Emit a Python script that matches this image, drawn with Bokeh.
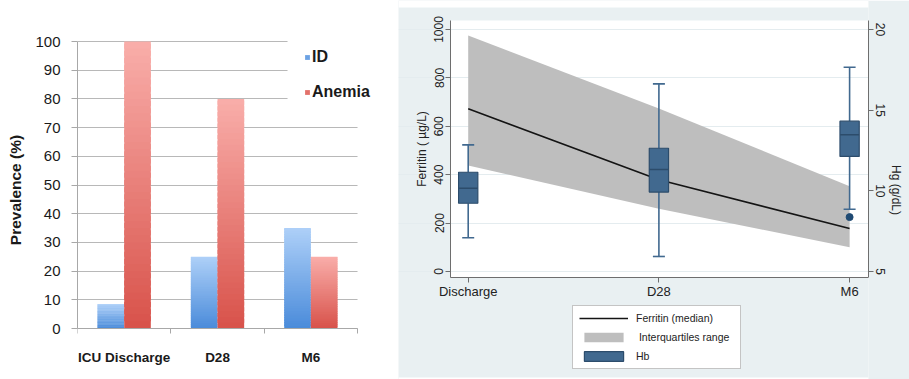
import numpy as np
from bokeh.plotting import figure
from bokeh.layouts import row
from bokeh.models import (ColumnDataSource, Range1d, LinearAxis, FixedTicker, BoxAnnotation,
                          CustomJSTickFormatter, Legend, LegendItem)
from bokeh.embed import file_html
from bokeh.resources import INLINE

# ---------------- data: left panel (prevalence) ----------------
categories = ["ICU Discharge", "D28", "M6"]
id_prev = [8.5, 25, 35]
anemia_prev = [100, 80, 25]
prev_ticks = [0, 10, 20, 30, 40, 50, 60, 70, 80, 90, 100]

# ---------------- data: right panel (ferritin / Hb) ----------------
timepoints = ["Discharge", "D28", "M6"]
ferritin_median = [672, 379, 178]
ferritin_q1 = [438, 259, 100]
ferritin_q3 = [975, 674, 352]
hb_whisker_low = [7.09, 5.93, 8.86]
hb_q1 = [9.23, 9.92, 12.13]
hb_median = [10.16, 11.32, 13.47]
hb_q3 = [11.15, 12.64, 14.32]
hb_whisker_high = [12.85, 16.63, 17.66]
hb_outlier_time = ["M6"]
hb_outlier = [8.37]
ferritin_ticks = [0, 200, 400, 600, 800, 1000]
hb_ticks = [5, 10, 15, 20]

SANS = "Liberation Sans"


def mix(c1, c2, t):
    a = [int(c1[i:i + 2], 16) for i in (1, 3, 5)]
    b = [int(c2[i:i + 2], 16) for i in (1, 3, 5)]
    return "#%02x%02x%02x" % tuple(int(round(a[j] + (b[j] - a[j]) * t)) for j in range(3))


def gradient_source(values, offset, c_bottom, c_top, n=40):
    # each bar is painted as n stacked slices to imitate the vertical gradient fill
    xs, bottoms, tops, colors = [], [], [], []
    for i, v in enumerate(values):
        for k in range(n):
            xs.append(i + 0.5 + offset)
            bottoms.append(v * k / n)
            tops.append(min(v, v * (k + 1.7) / n))
            colors.append(mix(c_bottom, c_top, (k + 0.5) / n))
    return ColumnDataSource(dict(x=xs, bottom=bottoms, top=tops, color=colors))


# ================= LEFT FIGURE =================
# frame spans the whole figure (y 0..379 px, x 77..398 px); data 0..100 sits at 328..41 px
p1 = figure(width=398, height=379, x_range=Range1d(0, 3.439), y_range=Range1d(-17.77, 114.29),
            output_backend="svg", toolbar_location=None,
            min_border_left=77, min_border_right=0, min_border_top=0, min_border_bottom=0)
p1.outline_line_color = None
p1.background_fill_color = "white"
p1.border_fill_color = "white"
p1.xgrid.visible = False
p1.ygrid.ticker = FixedTicker(ticks=prev_ticks)
p1.ygrid.grid_line_color = "#B8B8B8"
p1.ygrid.grid_line_width = 1
# white areas hiding the gridlines right of the plot and behind the legend
p1.add_layout(BoxAnnotation(left=len(categories), fill_color="white", fill_alpha=1,
                            line_color=None, level="underlay"))
p1.add_layout(BoxAnnotation(left=2.25, bottom=72.8, fill_color="white", fill_alpha=1,
                            line_color=None, level="underlay"))

NSL = 40
src_id = gradient_source(id_prev, -0.143, "#4A8BDA", "#AED0F8", NSL)
src_an = gradient_source(anemia_prev, 0.143, "#D8524A", "#F9AEAA", NSL)
r_id = p1.vbar(x="x", bottom="bottom", top="top", width=0.285, source=src_id,
               fill_color="color", line_color=None)
r_an = p1.vbar(x="x", bottom="bottom", top="top", width=0.285, source=src_an,
               fill_color="color", line_color=None)

ya = p1.yaxis[0]
ya.ticker = FixedTicker(ticks=prev_ticks)
ya.bounds = (0, 100)
ya.axis_line_color = "#A8A8A8"
ya.major_tick_line_color = "#A8A8A8"
ya.major_tick_out = 6
ya.major_tick_in = 0
ya.minor_tick_line_color = None
ya.major_label_text_font = SANS
ya.major_label_text_font_size = "15px"
ya.major_label_text_color = "#1a1a1a"
ya.major_label_standoff = 11
ya.axis_label = "Prevalence (%)"
ya.axis_label_text_font = SANS
ya.axis_label_text_font_style = "bold"
ya.axis_label_text_font_size = "15.5px"
ya.axis_label_text_color = "#1a1a1a"
ya.axis_label_standoff = 8

xa = p1.xaxis[0]
xa.fixed_location = 0
xa.bounds = (0, len(categories))
xa.ticker = FixedTicker(ticks=[i + 0.5 for i in range(len(categories))],
                        minor_ticks=list(range(len(categories) + 1)))
xa.formatter = CustomJSTickFormatter(args=dict(labels=categories),
                                     code="return labels[Math.floor(tick)] || '';")
xa.axis_line_color = "#A8A8A8"
xa.major_tick_line_color = None
xa.major_tick_out = 0
xa.major_tick_in = 0
xa.minor_tick_line_color = "#A8A8A8"
xa.minor_tick_out = 5
xa.minor_tick_in = 0
xa.major_label_text_font = SANS
xa.major_label_text_font_style = "bold"
xa.major_label_text_font_size = "13.5px"
xa.major_label_text_color = "#1a1a1a"
xa.major_label_standoff = 16

leg1 = Legend(items=[LegendItem(label="ID", renderers=[r_id], index=NSL // 3),
                     LegendItem(label="Anemia", renderers=[r_an], index=NSL // 3)],
              location=(227, 277), glyph_width=6, glyph_height=6, label_height=20,
              spacing=15, padding=18, margin=0, label_standoff=2,
              border_line_color=None, background_fill_color="white", background_fill_alpha=1,
              label_text_font=SANS, label_text_font_style="bold",
              label_text_font_size="16px", label_text_color="#1a1a1a")
p1.add_layout(leg1, "center")

# ================= RIGHT FIGURE =================
# frame spans x 398..868 px and y 0..379 px; plot area x 450..868, y 20..277
# ferritin 0..1000 sits at 271..29 px; Hb 5..20 on the same pixels
xi = list(range(len(timepoints)))
p2 = figure(width=511, height=379, x_range=Range1d(-0.3655, 2.0991), y_range=Range1d(-446.3, 1119.8),
            output_backend="svg", toolbar_location=None,
            min_border_left=0, min_border_right=41, min_border_top=0, min_border_bottom=0)
p2.extra_y_ranges = {"hb": Range1d(-1.6945, 21.797)}
BG = "#E9F0F2"
p2.background_fill_color = BG
p2.border_fill_color = BG
p2.outline_line_color = None
# white page strips above / below the grey-blue graph region, and the white plot region
p2.add_layout(BoxAnnotation(bottom=1090.9, fill_color="white", fill_alpha=1,
                            line_color=None, level="image"))
p2.add_layout(BoxAnnotation(top=-438.0, fill_color="white", fill_alpha=1,
                            line_color=None, level="image"))
p2.add_layout(BoxAnnotation(left=-0.0928, bottom=-24.8, top=1037.2, fill_color="white",
                            fill_alpha=1, line_color=None, level="image"))
p2.xgrid.visible = False
p2.ygrid.ticker = FixedTicker(ticks=ferritin_ticks)
p2.ygrid.grid_line_color = "#E4ECEF"
p2.ygrid.grid_line_width = 1

r_band = p2.varea(x=xi, y1=ferritin_q1, y2=ferritin_q3, fill_color="#BEBEBE", fill_alpha=1)
r_line = p2.line(x=xi, y=ferritin_median, line_color="#141414", line_width=1.6)

BOX = "#41698F"
BOX_EDGE = "#2C4C6B"
p2.segment(x0=xi, y0=hb_whisker_low, x1=xi, y1=hb_q1, y_range_name="hb",
           line_color=BOX, line_width=1.6)
p2.segment(x0=xi, y0=hb_q3, x1=xi, y1=hb_whisker_high, y_range_name="hb",
           line_color=BOX, line_width=1.6)
p2.scatter(x=xi, y=hb_whisker_low, marker="dash", size=12, y_range_name="hb",
           line_color=BOX, line_width=1.6)
p2.scatter(x=xi, y=hb_whisker_high, marker="dash", size=12, y_range_name="hb",
           line_color=BOX, line_width=1.6)
r_box = p2.vbar(x=xi, width=0.101, bottom=hb_q1, top=hb_q3, y_range_name="hb",
                fill_color=BOX, line_color=BOX_EDGE, line_width=1.2)
p2.scatter(x=xi, y=hb_median, marker="dash", size=19, y_range_name="hb",
           line_color=BOX_EDGE, line_width=1.5)
p2.scatter(x=[timepoints.index(t) for t in hb_outlier_time], y=hb_outlier, size=7,
           y_range_name="hb", fill_color="#1F4A73", line_color="#1F4A73")

AX = "#6E6E6E"
ly = p2.yaxis[0]
ly.fixed_location = -0.0928
ly.ticker = FixedTicker(ticks=ferritin_ticks)
ly.bounds = (-24.8, 1037.2)
ly.major_label_orientation = "vertical"
ly.axis_line_color = AX
ly.major_tick_line_color = AX
ly.major_tick_out = 5
ly.major_tick_in = 0
ly.minor_tick_line_color = None
ly.major_label_text_font = SANS
ly.major_label_text_font_size = "12px"
ly.major_label_text_color = "#222222"
ly.major_label_standoff = 2
ly.axis_label = "Ferritin ( µg/L)"
ly.axis_label_text_font = SANS
ly.axis_label_text_font_style = "normal"
ly.axis_label_text_font_size = "12px"
ly.axis_label_text_color = "#222222"
ly.axis_label_standoff = 3

ry = LinearAxis(y_range_name="hb", ticker=FixedTicker(ticks=hb_ticks), axis_label="Hg (g/dL)")
ry.bounds = (4.628, 20.558)
ry.major_label_orientation = "vertical"
ry.axis_line_color = AX
ry.major_tick_line_color = AX
ry.major_tick_out = 5
ry.major_tick_in = 0
ry.minor_tick_line_color = None
ry.major_label_text_font = SANS
ry.major_label_text_font_size = "12px"
ry.major_label_text_color = "#222222"
ry.major_label_standoff = 2
ry.axis_label_text_font = SANS
ry.axis_label_text_font_style = "normal"
ry.axis_label_text_font_size = "12px"
ry.axis_label_text_color = "#222222"
ry.axis_label_standoff = 1
p2.add_layout(ry, "right")

bx = p2.xaxis[0]
bx.fixed_location = -24.8
bx.bounds = (-0.0928, 2.0991)
bx.ticker = FixedTicker(ticks=xi)
bx.formatter = CustomJSTickFormatter(args=dict(labels=timepoints),
                                     code="return labels[Math.round(tick)] || '';")
bx.axis_line_color = AX
bx.major_tick_line_color = AX
bx.major_tick_out = 5
bx.major_tick_in = 0
bx.minor_tick_line_color = None
bx.major_label_text_font = SANS
bx.major_label_text_font_size = "13px"
bx.major_label_text_color = "#222222"
bx.major_label_standoff = 2

leg2 = Legend(items=[LegendItem(label="Ferritin (median)", renderers=[r_line]),
                     LegendItem(label=" Interquartiles range", renderers=[r_band]),
                     LegendItem(label="Hb", renderers=[r_box])],
              location=(174, 10), glyph_width=49, glyph_height=12, label_height=12,
              label_width=98, spacing=7, padding=6, margin=0, label_standoff=8,
              border_line_color="#8A8A8A", border_line_width=1,
              background_fill_color="white", background_fill_alpha=1,
              label_text_font=SANS, label_text_font_size="10.5px", label_text_color="#222222")
p2.add_layout(leg2, "center")

layout = row(p1, p2, spacing=0)
open("out.html", "w").write(file_html(layout, INLINE))
